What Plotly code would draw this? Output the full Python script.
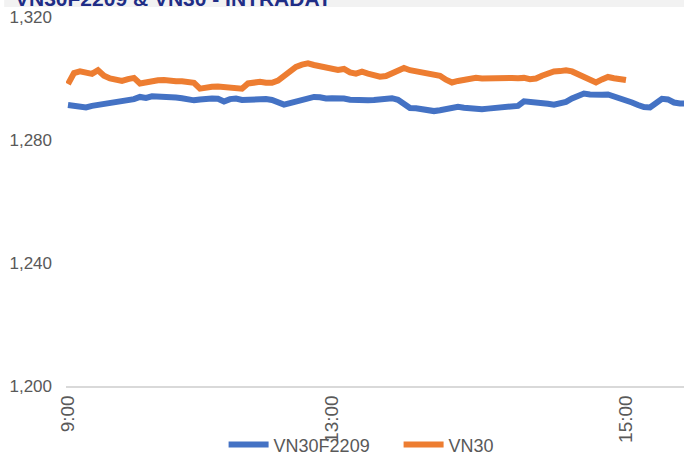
import plotly.graph_objects as go

# ---- data ----
vn30f = [1291.4, 1291.2, 1290.7, 1290.6, 1291.1, 1291.4, 1291.8, 1292.2, 1292.4, 1292.6,
         1292.8, 1293.3, 1294.0, 1293.7, 1294.2, 1294.2, 1293.9, 1294.0, 1293.8, 1293.6,
         1293.2, 1292.9, 1293.2, 1293.5, 1293.5, 1293.4, 1292.5, 1293.3, 1293.5, 1293.0,
         1293.1, 1293.3, 1293.3, 1293.3, 1293.0, 1292.0, 1291.5, 1292.0, 1292.4, 1292.9,
         1293.3, 1294.0, 1293.9, 1293.5, 1293.6, 1293.7, 1293.5, 1293.1, 1292.9, 1292.9,
         1292.9, 1293.0, 1293.2, 1293.5, 1293.6, 1293.1, 1291.9, 1290.4, 1290.3, 1290.1,
         1289.7, 1289.4, 1289.7, 1290.0, 1290.4, 1290.8, 1290.5, 1290.3, 1290.0, 1290.0,
         1290.2, 1290.4, 1290.4, 1290.4, 1290.6, 1291.1, 1292.6, 1292.5, 1292.4, 1292.2,
         1291.8, 1291.5, 1291.8, 1292.4, 1293.5, 1294.4, 1295.1, 1294.8, 1294.6, 1294.7,
         1294.8, 1294.2, 1293.8, 1292.9, 1292.2, 1291.4, 1290.7, 1290.6, 1292.0, 1293.4,
         1293.2, 1292.2, 1291.9, 1291.9]

vn30 = [1298.2, 1301.8, 1302.3, 1301.9, 1301.5, 1302.7, 1300.9, 1300.0, 1299.6, 1299.2,
        1299.8, 1300.2, 1298.4, 1298.8, 1299.2, 1299.4, 1299.5, 1299.2, 1299.1, 1299.1,
        1299.0, 1298.6, 1296.7, 1297.2, 1297.3, 1297.4, 1297.2, 1297.4, 1297.1, 1296.7,
        1298.4, 1298.9, 1298.9, 1298.6, 1298.6, 1299.3, 1300.7, 1302.5, 1303.8, 1304.5,
        1304.9, 1304.4, 1304.0, 1303.4, 1303.0, 1302.8, 1303.1, 1302.0, 1301.6, 1302.2,
        1301.6, 1301.0, 1300.6, 1300.8, 1301.6, 1302.6, 1303.4, 1302.7, 1302.4, 1302.1,
        1301.7, 1301.3, 1300.9, 1299.6, 1298.7, 1299.2, 1299.6, 1299.9, 1300.2, 1300.0,
        1300.1, 1300.0, 1300.3, 1300.2, 1300.2, 1300.1, 1300.2, 1299.8, 1300.0, 1300.9,
        1301.7, 1302.3, 1302.4, 1302.7, 1302.3, 1301.4, 1300.3, 1299.3, 1298.7, 1299.7,
        1300.5, 1300.1, 1299.6, 1299.5]

tick_labels = ["9:00", "13:00", "15:00"]
tick_index = [0, 44, 93]
y_ticks = [1200, 1240, 1280, 1320]

title_text = "VN30F2209 & VN30 - INTRADAY"

FONT = "Liberation Sans, Arial, sans-serif"
GRAY = "#595959"

fig = go.Figure()
fig.add_trace(go.Scatter(x=list(range(len(vn30f))), y=vn30f, mode="lines",
                         name="VN30F2209", line=dict(color="#4472C4", width=6)))
fig.add_trace(go.Scatter(x=list(range(len(vn30))), y=vn30, mode="lines",
                         name="VN30", line=dict(color="#ED7D31", width=6)))

fig.update_layout(
    width=684, height=454,
    margin=dict(l=66, r=0, t=17, b=68, autoexpand=False),
    paper_bgcolor="white", plot_bgcolor="white",
    font=dict(family=FONT, color=GRAY, size=18),
    showlegend=True,
    legend=dict(orientation="h", x=0.255, xanchor="left", yref="container",
                y=0.02, yanchor="middle", font=dict(size=18, color=GRAY),
                bgcolor="rgba(0,0,0,0)", itemwidth=40, tracegroupgap=0,
                entrywidth=120, entrywidthmode="pixels"),
    xaxis=dict(range=[-0.33, 102.67], tickmode="array", tickvals=tick_index,
               ticktext=tick_labels, tickangle=-90, showgrid=False, zeroline=False,
               showline=True, linecolor="#D9D9D9", linewidth=1.5, ticks="",
               automargin=False, tickfont=dict(size=19, color=GRAY)),
    yaxis=dict(range=[1200, 1320], tickvals=y_ticks, tickformat=",d",
               showgrid=False, zeroline=False, showline=False, ticks="",
               automargin=False, ticklabelstandoff=13,
               tickfont=dict(size=17, color=GRAY)),
    shapes=[dict(type="rect", xref="paper", yref="paper", x0=-0.1, x1=1.0,
                 y0=1.027, y1=1.1, fillcolor="#F2F2F2", line=dict(width=0),
                 layer="below")],
    annotations=[dict(text="<b>" + title_text + "</b>", xref="paper", yref="paper",
                      x=-0.086, xanchor="left", y=1.0, yanchor="middle", yshift=19,
                      showarrow=False, font=dict(size=21, color="#1F2D86", family=FONT))],
)

fig.write_html("out.html", config={"displayModeBar": False},
               post_script="document.body.style.margin='0';")
